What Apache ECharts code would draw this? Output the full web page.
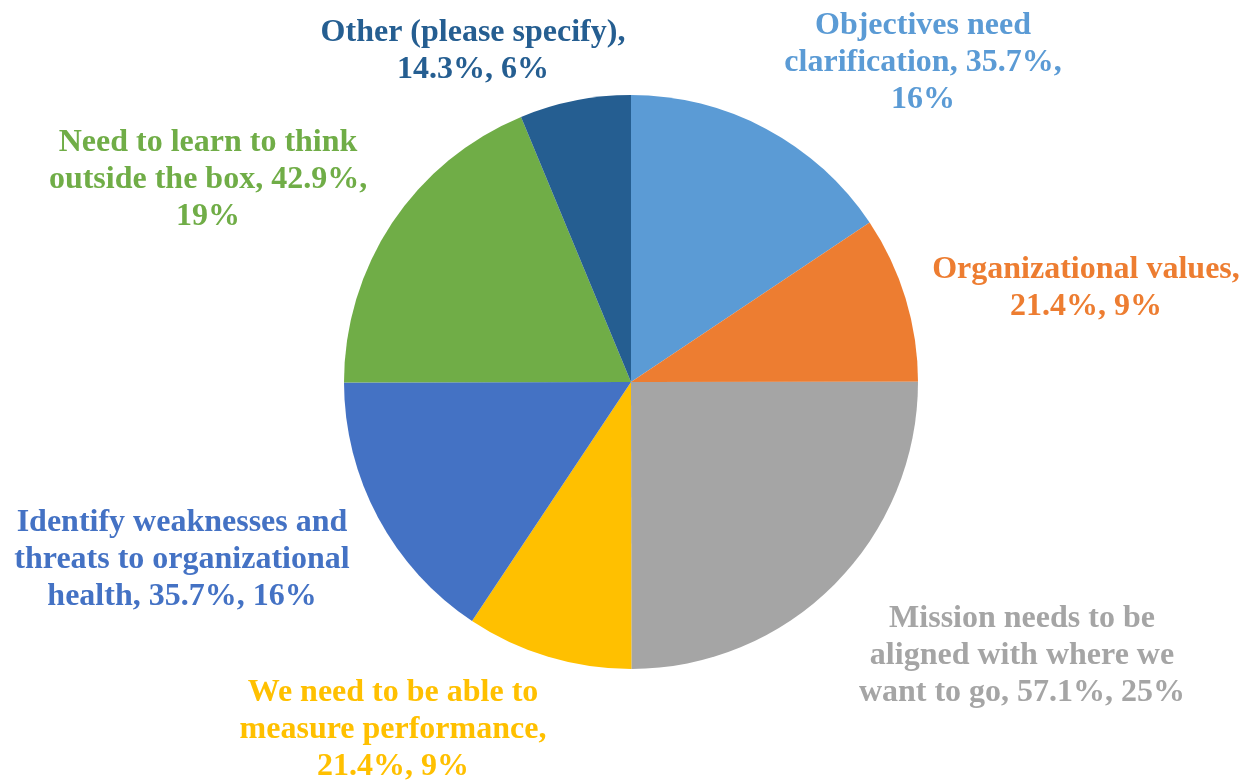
<!DOCTYPE html>
<html>
<head>
<meta charset="utf-8">
<script src="https://cdn.jsdelivr.net/npm/echarts@6/dist/echarts.min.js"></script>
<style>html,body{margin:0;padding:0;background:#fff;}#chart{width:1248px;height:780px;}</style>
</head>
<body>
<div id="chart"></div>
<script>
const categories = [
  "Objectives need clarification",
  "Organizational values",
  "Mission needs to be aligned with where we want to go",
  "We need to be able to measure performance",
  "Identify weaknesses and threats to organizational health",
  "Need to learn to think outside the box",
  "Other (please specify)"
];
const values = [35.7, 21.4, 57.1, 21.4, 35.7, 42.9, 14.3];
const colors = ["#5B9BD5", "#ED7D31", "#A5A5A5", "#FFC000", "#4472C4", "#70AD47", "#255E91"];
const labelTemplates = [
  "Objectives need\nclarification, {c}%,\n{d}%",
  "Organizational values,\n{c}%, {d}%",
  "Mission needs to be\naligned with where we\nwant to go, {c}%, {d}%",
  "We need to be able to\nmeasure performance,\n{c}%, {d}%",
  "Identify weaknesses and\nthreats to organizational\nhealth, {c}%, {d}%",
  "Need to learn to think\noutside the box, {c}%,\n{d}%",
  "Other (please specify),\n{c}%, {d}%"
];
// label centre positions (layout only)
const labelPos = [[923, 63], [1086, 288], [1022, 656], [393, 730], [182, 560], [208, 180], [473, 51]];

const chart = echarts.init(document.getElementById('chart'));
chart.setOption({
  animation: false,
  series: [{
    type: 'pie',
    center: [631, 382],
    radius: 287,
    startAngle: 90,
    clockwise: true,
    percentPrecision: 0,
    avoidLabelOverlap: false,
    labelLine: { show: false },
    label: {
      show: true,
      position: 'outside',
      overflow: 'none',
      width: 500,
      fontFamily: '"Liberation Serif", "Times New Roman", serif',
      fontWeight: 'bold',
      fontSize: 32,
      lineHeight: 37,
      align: 'center'
    },
    labelLayout: function (p) {
      const pos = labelPos[p.dataIndex];
      return { x: pos[0], y: pos[1], align: 'center', verticalAlign: 'middle' };
    },
    emphasis: { disabled: true },
    data: categories.map((c, i) => ({
      name: c,
      value: values[i],
      itemStyle: { color: colors[i] },
      label: { formatter: labelTemplates[i], color: colors[i] }
    }))
  }]
});
</script>
</body>
</html>
